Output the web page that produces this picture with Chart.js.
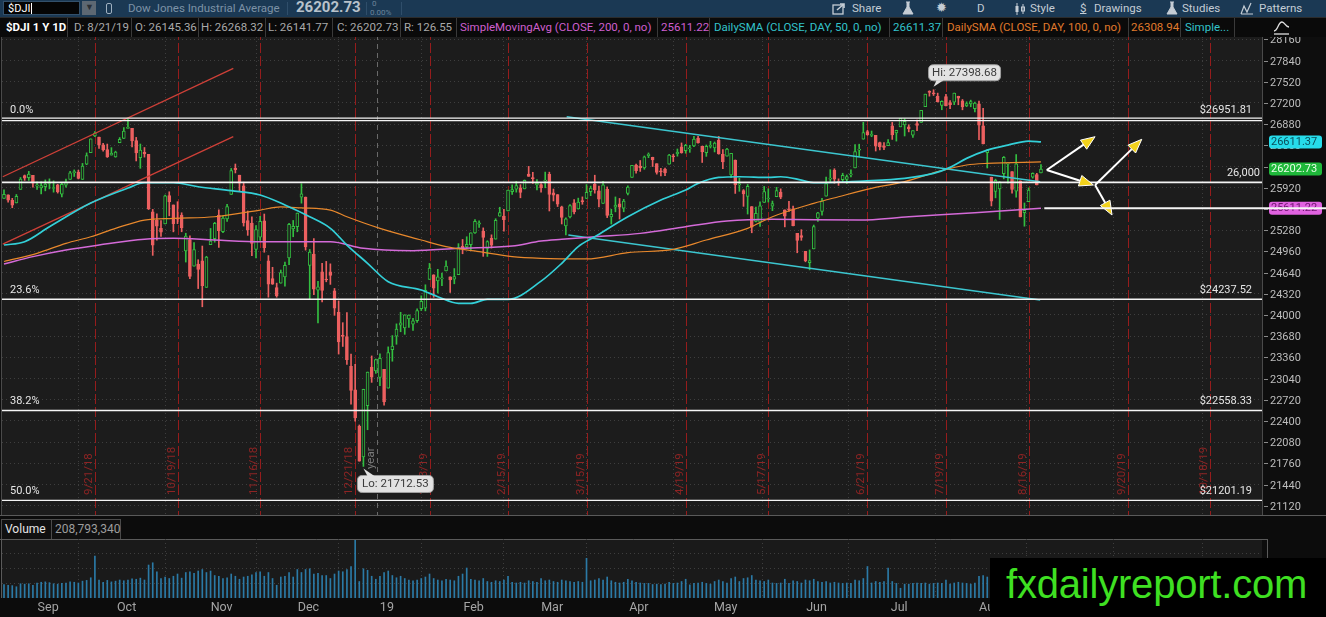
<!DOCTYPE html>
<html><head><meta charset="utf-8">
<script src="https://cdn.jsdelivr.net/npm/chart.js@4.4.1/dist/chart.umd.min.js"></script>
<style>
html,body{margin:0;padding:0;background:#0e0e0e;width:1326px;height:617px;overflow:hidden;font-family:Roboto,'Open Sans',sans-serif;}
.abs{position:absolute;white-space:nowrap;}
#tb{position:absolute;left:0;top:0;width:1326px;height:17px;background:#1b3954;z-index:3;}
#tb span{position:absolute;line-height:17px;white-space:nowrap;}
#ib{position:absolute;left:0;top:17px;width:1326px;height:20px;background:#0a0a0a;z-index:3;border-top:1px solid #2c2c2c;box-sizing:border-box;}
#ib span{position:absolute;top:0;line-height:19px;font-size:11.5px;color:#a9a9a9;white-space:nowrap;}
#ib i{position:absolute;top:0;width:1px;height:19px;background:#3a3a3a;}
#pc{position:absolute;left:0;top:17px;}
#vc{position:absolute;left:0;top:539px;}
#vh{position:absolute;left:0;top:515px;width:1326px;height:24px;background:#0c0c0c;border-top:1px solid #5a5a5a;box-sizing:border-box;}
#vh span{position:absolute;top:3px;height:20px;line-height:20px;font-size:12px;white-space:nowrap;}
#wm{position:absolute;left:990px;top:558px;width:336px;height:59px;background:#000;z-index:4;}
#wm span{position:absolute;left:16px;top:1px;font-family:'Liberation Sans',Arial,sans-serif;font-size:40px;line-height:50px;color:#3fe022;letter-spacing:-0.2px;}
</style></head>
<body>
<div id="tb">
  <div class="abs" style="left:3px;top:1px;width:77px;height:14px;background:#050505;border:1px solid #33506a;box-sizing:border-box;"></div>
  <span style="left:8px;top:0;font-size:11px;color:#fff;">$DJI<span style="position:relative;display:inline-block;width:1px;height:11px;background:#fff;margin-left:1px;top:2px;"></span></span>
  <div class="abs" style="left:82px;top:1px;width:14px;height:14px;background:#5d6873;"></div>
  <span style="left:85px;top:-1px;font-size:9px;color:#2a2f35;">▼</span>
  <div class="abs" style="left:106px;top:3px;width:4px;height:9px;border:1px solid #9fb0c0;border-radius:2px;"></div>
  <span style="left:128px;font-size:11.5px;color:#7d92a6;">Dow Jones Industrial Average</span>
  <div class="abs" style="left:287px;top:2px;width:1px;height:13px;background:#2f4e6a;"></div>
  <span style="left:296px;top:-1px;font-size:15px;font-weight:bold;color:#b8c2cb;">26202.73</span>
  <div class="abs" style="left:366px;top:2px;width:1px;height:13px;background:#2f4e6a;"></div>
  <span style="left:372px;top:-5px;font-size:8px;color:#6c8399;">0</span>
  <span style="left:370px;top:4px;font-size:8px;color:#6c8399;">0.00%</span>
  <div class="abs" style="left:401px;top:2px;width:1px;height:13px;background:#2f4e6a;"></div>
  <svg class="abs" style="left:832px;top:2px" width="14" height="13"><rect x="1" y="3" width="10" height="9" fill="none" stroke="#c5cdd5" stroke-width="1.3"/><path d="M5 8 L12 2 M8 2 L12 2 L12 6" fill="none" stroke="#c5cdd5" stroke-width="1.6"/></svg>
  <span style="left:852px;font-size:11.5px;color:#c5cdd5;">Share</span>
  <svg class="abs" style="left:902px;top:1px" width="12" height="15"><path d="M4 1 L8 1 M5 1 L5 6 L1 13 L11 13 L7 6 L7 1" fill="#c5cdd5" stroke="#c5cdd5" stroke-width="1"/></svg>
  <span style="left:936px;top:-1px;font-size:13px;color:#c5cdd5;">✹</span>
  <span style="left:977px;font-size:11.5px;color:#c5cdd5;">D</span>
  <svg class="abs" style="left:1014px;top:3px" width="12" height="12"><path d="M3 0 L3 12 M9 1 L9 11" stroke="#c5cdd5" stroke-width="1"/><rect x="1.5" y="3" width="3" height="6" fill="#c5cdd5"/><rect x="7.5" y="4" width="3" height="4" fill="none" stroke="#c5cdd5"/></svg>
  <span style="left:1030px;font-size:11.5px;color:#c5cdd5;">Style</span>
  <span style="left:1080px;font-size:11.5px;color:#c5cdd5;text-decoration:underline;">$</span>
  <span style="left:1094px;font-size:11.5px;color:#c5cdd5;">Drawings</span>
  <svg class="abs" style="left:1166px;top:1px" width="12" height="15"><path d="M4 1 L8 1 M5 1 L5 6 L1 13 L11 13 L7 6 L7 1" fill="#c5cdd5" stroke="#c5cdd5" stroke-width="1"/></svg>
  <span style="left:1182px;font-size:11.5px;color:#c5cdd5;">Studies</span>
  <svg class="abs" style="left:1240px;top:2px" width="14" height="13"><path d="M1 12 L4 4 L7 10 L11 1 M1 12 L13 12" fill="none" stroke="#c5cdd5" stroke-width="1.2"/></svg>
  <span style="left:1259px;font-size:11.5px;color:#c5cdd5;">Patterns</span>
</div>
<div id="ib"></div>
<canvas id="pc" width="1326" height="498"></canvas>
<div id="vh">
  <div class="abs" style="left:1px;top:3px;width:120px;height:21px;border:1px solid #4a4a4a;box-sizing:border-box;background:#101010;"></div>
  <div class="abs" style="left:51px;top:3px;width:1px;height:21px;background:#4a4a4a;"></div>
  <span style="left:5px;color:#e4e4e4;">Volume</span>
  <span style="left:55px;color:#9d9d9d;">208,793,340</span>
</div>
<canvas id="vc" width="1326" height="78"></canvas>
<div id="wm"><span>fxdailyreport.com</span></div>
<script>
// ---------------- DATA ----------------
// trading-day index 0 = 8/21/18 ... 251 = 8/21/19
const opens = [
25758,25812,25730,25692,25896,26104,26072,26108,25945,
25916,25937,25986,25908,25964,25823,25957,26044,26147,26158,26045,26276,26450,26702,26686,26567,26497,26413,26386,
26599,26663,26815,26816,26632,26374,26456,26423,25555,25428,25308,25372,25800,25660,25450,25507,24967,25136,24735,24766,24817,24416,25061,
25151,25506,25255,25451,25819,26216,26109,25948,25423,25388,24990,25175,25421,24818,24550,24413,24479,24572,24860,25298,25334,
25779,25780,24748,24918,24374,24650,24537,24651,24362,24040,23683,23675,23225,22871,22317,21858,22629,23213,23154,
23058,23177,22895,23474,23680,23844,23804,23940,23862,23914,24095,24101,24535,24607,24512,24545,24664,24575,24541,24609,25036,
25025,25062,25238,25371,25265,25004,25157,25144,25490,25492,25570,25862,25900,25919,25902,26126,26070,25962,25969,
26019,26123,25842,25815,25630,25345,25478,25693,25600,25720,25757,25861,25975,25873,25684,25894,25479,25625,25676,25611,25834,
26076,26262,26245,26219,26405,26377,26283,26175,26200,26275,26397,26434,26536,26481,26506,26550,26671,26547,26448,26543,26522,
26640,26423,26395,26115,26339,25964,25878,25788,25636,25410,25401,25698,25750,25641,25784,25854,25585,25597,25600,25230,25197,24959,
24787,24996,25460,25563,25792,26050,26185,26010,26040,26044,26113,26219,26488,26652,26766,26709,26711,26603,26553,26554,
26853,26746,26839,26869,26838,26712,26887,26907,27145,27362,27347,27301,27162,27294,27207,27213,27298,27232,27154,27186,27113,27186,
26855,26450,26079,25863,25901,26134,26277,26165,25867,26023,25542,25708,26079,26117,26145];
const highs = [
25888,25812,25760,25818,26074,26112,26167,26108,26010,
26009,26038,26054,26024,25972,25990,26049,26169,26189,26185,26287,26446,26657,26769,26686,26592,26579,26525,26472,
26677,26828,26952,26816,26680,26580,26527,26423,25593,25527,25424,25809,25859,25660,25709,25542,25233,25194,25093,24833,25040,24885,25305,
25398,25587,25494,25668,26211,26278,26109,26004,25569,25479,25350,25490,25523,24896,24719,24480,24678,24797,25381,25426,25538,
25981,25780,24988,25151,24507,24780,24808,24771,24400,24212,23883,24037,23408,23254,22339,22879,23138,23381,23334,
23413,23177,23518,23688,23865,24040,24002,24003,23947,24092,24288,24455,24778,24607,24688,24633,24816,24575,24700,25076,25139,
25180,25240,25438,25419,25314,25120,25209,25452,25625,25593,25883,25963,26016,25966,26037,26242,26153,26044,25981,
26156,26155,25900,25817,25642,25465,25665,25741,25763,25782,25968,25945,26109,25944,26017,25932,25595,25781,25758,25745,25949,
26259,26276,26331,26399,26445,26381,26283,26214,26218,26425,26424,26505,26596,26575,26559,26696,26695,26547,26565,26620,26611,
26695,26494,26516,26441,26339,26063,25892,25969,25636,25629,25707,25939,25904,25719,25926,25903,25585,25714,25644,25230,25287,24959,
24981,25357,25549,25760,26082,26193,26207,26054,26139,26113,26192,26571,26577,26907,26787,26776,26711,26608,26601,26645,
26906,26788,26967,26962,26871,26784,26942,27089,27333,27384,27399,27348,27232,27330,27234,27349,27302,27252,27217,27242,27212,27227,
27120,26497,26079,26050,26014,26391,26300,26165,26421,26023,25690,25918,26145,26139,26268];
const lows = [
25758,25703,25618,25690,25896,26031,26030,25927,25893,
25827,25873,25902,25853,25839,25783,25927,26044,26090,26052,26045,26268,26450,26691,26515,26471,26377,26413,26380,
26599,26663,26815,26537,26324,26213,26382,25590,24899,25129,25186,25372,25496,25254,25378,25255,24798,24547,24735,24398,24123,24416,25061,
25098,25019,25241,25413,25819,26143,25873,25341,25201,24896,24862,25126,24946,24268,24461,24268,24479,24434,24759,25180,25255,
25687,24978,24242,24304,23881,24195,24500,24461,23994,23409,23524,23254,22654,22397,21792,21713,22267,22982,23118,
22931,22639,22895,23301,23557,23746,23707,23812,23765,23887,24066,24061,24535,24266,24330,24441,24664,24339,24470,24609,24923,
25003,24971,25232,25322,24884,24883,25009,25144,25490,25266,25570,25819,25853,25768,25902,26092,25985,25887,25853,
25919,25569,25720,25636,25373,25208,25466,25526,25597,25670,25757,25800,25838,25632,25684,25469,25372,25556,25447,25557,25810,
26076,26140,26166,26198,26373,26240,26125,26099,26103,26275,26315,26396,26441,26441,26454,26540,26594,26301,26393,26520,26460,
26426,26207,26395,26070,25834,25866,25639,25523,25240,25403,25337,25698,25704,25574,25784,25754,25329,25563,25343,24938,25126,24802,
24680,24996,25410,25505,25792,26013,25987,25955,26009,25983,26083,26219,26395,26652,26711,26690,26474,26489,26494,26554,
26649,26624,26839,26701,26763,26678,26780,26907,27145,27302,27312,27213,27097,27153,27113,27174,27172,27096,27144,27142,27063,26644,
26582,26218,25645,25767,25441,26054,25988,25839,25777,25479,25339,25708,26064,25962,26142];
const closes = [
25822,25734,25657,25790,26050,26064,26125,25987,25965,
25952,25975,25996,25917,25857,25971,25999,26146,26155,26062,26247,26406,26657,26744,26562,26492,26385,26440,26458,
26651,26774,26828,26627,26447,26487,26431,25599,25053,25340,25251,25798,25707,25379,25444,25317,25191,24583,24985,24688,24443,24875,25116,
25381,25271,25462,25635,26180,26191,25989,25387,25286,25081,25289,25413,25017,24466,24465,24286,24640,24749,25366,25339,25538,
25826,25027,24948,24389,24423,24370,24527,24597,24101,23593,23676,23324,22860,22445,21792,22878,23139,23062,23327,
23346,22686,23433,23531,23787,23879,24002,23996,23910,24066,24207,24370,24706,24404,24576,24553,24737,24528,24580,25015,25000,
25064,25239,25412,25390,25170,25106,25053,25426,25543,25439,25883,25891,25954,25851,26032,26092,26058,25985,25916,
26026,25820,25807,25673,25473,25450,25651,25555,25703,25710,25849,25914,25887,25746,25963,25502,25517,25658,25626,25717,25929,
26258,26179,26218,26385,26425,26341,26151,26157,26143,26412,26385,26453,26450,26560,26511,26656,26597,26462,26543,26554,26593,
26430,26308,26505,26438,25965,25967,25828,25942,25325,25532,25648,25863,25764,25680,25877,25777,25490,25586,25348,25126,25170,24815,
24820,25332,25540,25721,25984,26063,26049,26005,26107,26090,26113,26466,26504,26753,26719,26728,26548,26537,26527,26600,
26717,26787,26966,26922,26806,26783,26860,27088,27332,27359,27336,27220,27223,27154,27172,27349,27270,27141,27192,27221,27198,26864,
26583,26485,25718,26030,26007,26378,26287,25896,26280,25479,25579,25886,26136,25962,26203];
// volume, millions of shares
const volumes = [
180,170,165,150,190,185,190,170,200,
210,215,205,190,185,195,200,215,210,200,225,235,270,560,240,210,235,215,225,
240,230,240,255,250,265,240,440,470,350,260,280,260,290,320,265,340,350,330,360,380,340,360,
300,290,260,270,320,290,250,280,290,310,340,350,290,340,260,170,280,290,340,280,380,
340,380,390,320,330,300,300,260,320,360,350,380,420,770,220,390,370,290,250,
290,340,360,300,270,290,260,240,230,240,260,280,320,260,240,230,250,240,230,290,320,
400,250,240,230,260,220,210,230,220,240,290,210,200,210,200,230,220,210,260,
230,240,220,210,240,230,220,210,220,210,530,230,240,260,240,280,230,210,200,210,250,
230,210,200,195,195,180,185,180,185,210,195,200,220,250,175,195,200,210,195,185,220,
240,220,200,260,280,220,260,270,300,240,230,220,240,200,195,200,250,195,230,220,200,240,
230,250,220,210,220,200,210,200,195,200,195,240,230,260,420,200,220,210,220,400,
220,195,130,185,185,195,200,195,200,185,195,200,195,240,185,200,210,200,195,185,200,290,
300,280,340,290,300,260,230,220,250,290,260,220,185,195,209];
// moving averages (index, value)
const sma50X  = [0,5,11,21,30,34,41,47,55,62,68,74,79,83,88,93,101,105,110,113,117,122,130,135,139,143,151,159,165,168,173,178,185,188,193,196,208,218,225,229,233,238,243,248,251];
const sma50Y  = [25055,25105,25331,25689,25915,25995,25995,25935,25875,25810,25660,25482,25307,25055,24779,24501,24376,24275,24175,24175,24235,24235,24510,24779,25030,25180,25482,25734,25885,25986,26076,26086,26076,26086,26036,25995,26021,26061,26136,26227,26363,26488,26564,26624,26611];
const sma100X = [0,8,15,21,27,34,41,51,62,67,72,79,83,91,101,107,115,123,130,141,151,162,170,180,186,196,202,210,218,226,233,238,251];
const sma100Y = [24806,24930,25081,25180,25307,25432,25458,25482,25583,25630,25615,25583,25482,25307,25131,25030,24955,24880,24854,24845,24940,24990,25131,25307,25482,25684,25784,25911,26011,26162,26263,26288,26309];
const sma200X = [0,7,15,23,34,41,51,62,79,87,99,110,123,130,135,143,154,165,175,186,207,219,235,251];
const sma200Y = [24769,24880,24980,25055,25142,25156,25131,25106,25106,25005,24970,25005,25040,25115,25142,25180,25231,25331,25417,25443,25432,25482,25543,25611];
// drawn trend lines (index, price)
const redUpperX = [-0.3, 55.5], redUpperY = [26086, 27722];
const redLowerX = [-0.3, 55.5], redLowerY = [25070, 26690];
const cyanUpperX = [136.2, 250.8], cyanUpperY = [26992, 26010];
const cyanLowerX = [136.6, 250.8], cyanLowerY = [25206, 24225];
// arrows
const arrowFromX = [252.4, 252.4, 264.1, 264.1], arrowFromY = [26187, 26187, 25961, 25961];
const arrowToX   = [264.1, 263.7, 275.4, 268.2], arrowToY   = [26690, 25961, 26651, 25508];
// levels
const fibValues = [26951.81, 24237.52, 22558.33, 21201.19];
const fibPct    = ['0.0%', '23.6%', '38.2%', '50.0%'];
const fibText   = ['$26951.81', '$24237.52', '$22558.33', '$21201.19'];
const levelValue = 26000, levelText = '26,000';
const supportValue = 25611.22, supportStartX = 251.8;
const hiIdx = 225, hiValue = 27398.68, loIdx = 87, loValue = 21712.53;
// axes
const yTicks = [21120,21440,21760,22080,22400,22720,23040,23360,23680,24000,24320,24640,24960,25280,25600,25920,26240,26560,26880,27200,27520,27840,28160];
const volTicks = [200, 400, 600];
const monthIdx = [9,28,51,72,91,112,131,152,173,195,215,237,259,279,302];
const monthLabels = ['Sep','Oct','Nov','Dec','19','Feb','Mar','Apr','May','Jun','Jul','Aug','Sep','Oct','Nov'];
const expIdx = [22,42,62,85,103,122,141,165,185,209,228,248,272,292];
const expLabels = ['9/21/18','10/19/18','11/16/18','12/21/18','1/18/19','2/15/19','3/15/19','4/19/19','5/17/19','6/21/19','7/19/19','8/16/19','9/20/19','10/18/19'];
const yearIdx = 90.2;
const badgeValues = [26611.37, 26202.73, 25611.22];
const badgeBg = ['#26dcea', '#1fb83a', '#e062e0'];
const badgeFg = ['#0b4f5a', '#e9ffe9', '#6e146e'];
// header cells
const infoCells = [[6,'$DJI 1 Y 1D','#ffffff',1],[74,'D: 8/21/19','#a9a9a9'],[135,'O: 26145.36','#a9a9a9'],[201,'H: 26268.32','#a9a9a9'],[268,'L: 26141.77','#a9a9a9'],[337,'C: 26202.73','#a9a9a9'],[404,'R: 126.55','#a9a9a9'],[460,'SimpleMovingAvg (CLOSE, 200, 0, no)','#cf5fcf'],[661,'25611.22','#cf5fcf'],[714,'DailySMA (CLOSE, DAY, 50, 0, no)','#33c3cb'],[893,'26611.37','#33c3cb'],[947,'DailySMA (CLOSE, DAY, 100, 0, no)','#e07a2c'],[1131,'26308.94','#e07a2c'],[1185,'Simple...','#33c3cb']];
const infoBorders = [67,131,198,265,332,400,456,657,709,889,942,1128,1180,1234];

// ---------------- header ----------------
const ib = document.getElementById('ib');
infoCells.forEach(c => { const s = document.createElement('span'); s.textContent = c[1]; s.style.left = c[0] + 'px'; s.style.color = c[2]; if (c[3]) s.style.fontWeight = 'bold'; ib.appendChild(s); });
infoBorders.forEach(b => { const d = document.createElement('i'); d.style.left = b + 'px'; ib.appendChild(d); });
ib.insertAdjacentHTML('beforeend','<svg style="position:absolute;left:1272px;top:1px" width="20" height="17"><path d="M2 12 C6 12 6 3 10 3 C13 3 13 8 17 8" fill="none" stroke="#e0e0e0" stroke-width="1.3"/><path d="M2 15 L17 15" stroke="#e0e0e0" stroke-width="1.3"/></svg>');

// ---------------- chart helpers ----------------
const GREEN = '#33be40', RED = '#ec6060', PLOT = '#1c1c1c', GRID = '#3e3e3e';
const XMIN = -0.484, XMAX = 304.5;
const FONT = 'Roboto, "Open Sans", sans-serif';
const idxs = closes.map((_, i) => i);
const up = idxs.map(i => closes[i] >= opens[i]);
const pts = (xs, ys) => xs.map((x, i) => ({x: x, y: ys[i]}));

const bgPlugin = {
  id: 'bgp',
  beforeDraw(chart) {
    const {ctx, chartArea: a} = chart;
    ctx.save();
    ctx.fillStyle = '#0e0e0e'; ctx.fillRect(0, 0, chart.width, chart.height);
    ctx.fillStyle = PLOT; ctx.fillRect(a.left, a.top, a.right - a.left, a.bottom - a.top);
    ctx.strokeStyle = '#4a4a4a'; ctx.lineWidth = 1;
    ctx.beginPath(); ctx.moveTo(a.left - 0.5, a.top); ctx.lineTo(a.left - 0.5, a.bottom); ctx.stroke();
    ctx.beginPath(); ctx.moveTo(a.right + 0.5, a.top); ctx.lineTo(a.right + 0.5, a.bottom); ctx.stroke();
    ctx.restore();
  }
};

function roundRect(ctx, x, y, w, h, r) {
  ctx.beginPath(); ctx.moveTo(x + r, y); ctx.lineTo(x + w - r, y); ctx.quadraticCurveTo(x + w, y, x + w, y + r);
  ctx.lineTo(x + w, y + h - r); ctx.quadraticCurveTo(x + w, y + h, x + w - r, y + h); ctx.lineTo(x + r, y + h);
  ctx.quadraticCurveTo(x, y + h, x, y + h - r); ctx.lineTo(x, y + r); ctx.quadraticCurveTo(x, y, x + r, y); ctx.closePath();
}

const overlay = {
  id: 'overlay',
  beforeDatasetsDraw(chart) {
    const {ctx, chartArea: a, scales: {x}} = chart;
    ctx.save();
    ctx.beginPath(); ctx.rect(a.left, a.top, a.right - a.left, a.bottom - a.top); ctx.clip();
    ctx.lineWidth = 1;
    ctx.font = '11.5px ' + FONT;
    expIdx.forEach((e, k) => {
      const px = Math.round(x.getPixelForValue(e)) + 0.5;
      ctx.strokeStyle = '#951c1c'; ctx.setLineDash([10, 3]);
      ctx.beginPath(); ctx.moveTo(px, a.top); ctx.lineTo(px, a.bottom); ctx.stroke();
      ctx.save(); ctx.translate(px - 1, a.bottom - 20); ctx.rotate(-Math.PI / 2);
      ctx.fillStyle = '#8e2424'; ctx.textAlign = 'left'; ctx.textBaseline = 'bottom';
      ctx.fillText(expLabels[k], 0, 0); ctx.restore();
    });
    const yx = Math.round(x.getPixelForValue(yearIdx)) + 0.5;
    ctx.strokeStyle = '#6a6a6a'; ctx.setLineDash([5, 4]);
    ctx.beginPath(); ctx.moveTo(yx, a.top); ctx.lineTo(yx, a.bottom); ctx.stroke();
    ctx.save(); ctx.translate(yx - 1, a.bottom - 46); ctx.rotate(-Math.PI / 2);
    ctx.fillStyle = '#7a7a7a'; ctx.textAlign = 'left'; ctx.textBaseline = 'bottom';
    ctx.fillText('year', 0, 0); ctx.restore();
    ctx.restore();
  },
  afterDatasetsDraw(chart) {
    const {ctx, chartArea: a, scales: {x, y}} = chart;
    ctx.save();
    ctx.beginPath(); ctx.rect(a.left, a.top, a.right - a.left, a.bottom - a.top); ctx.clip();
    ctx.setLineDash([]);
    ctx.font = '11px ' + FONT;
    fibValues.forEach((v, k) => {
      const py = y.getPixelForValue(v);
      ctx.strokeStyle = '#f4f4f4';
      if (k === 0) {
        ctx.lineWidth = 1.3;
        ctx.beginPath(); ctx.moveTo(a.left, py - 1.2); ctx.lineTo(a.right, py - 1.2); ctx.stroke();
        ctx.beginPath(); ctx.moveTo(a.left, py + 1.2); ctx.lineTo(a.right, py + 1.2); ctx.stroke();
      } else {
        ctx.lineWidth = 1.4;
        ctx.beginPath(); ctx.moveTo(a.left, py); ctx.lineTo(a.right, py); ctx.stroke();
      }
      ctx.fillStyle = '#e6e6e6'; ctx.textBaseline = 'alphabetic';
      ctx.textAlign = 'left'; ctx.fillText(fibPct[k], a.left + 8, py - 6);
      ctx.textAlign = 'right'; ctx.fillText(fibText[k], a.right - 10, py - 6);
    });
    const ly = y.getPixelForValue(levelValue);
    ctx.lineWidth = 1.8; ctx.strokeStyle = '#f4f4f4';
    ctx.beginPath(); ctx.moveTo(a.left, ly); ctx.lineTo(a.right, ly); ctx.stroke();
    ctx.textAlign = 'right'; ctx.fillStyle = '#e6e6e6'; ctx.fillText(levelText, a.right - 2, ly - 6);
    arrowFromX.forEach((fx, k) => {
      const x1 = x.getPixelForValue(fx), y1 = y.getPixelForValue(arrowFromY[k]);
      const x2 = x.getPixelForValue(arrowToX[k]), y2 = y.getPixelForValue(arrowToY[k]);
      const ang = Math.atan2(y2 - y1, x2 - x1), L = 14, W = 5.5;
      const bx = x2 - L * Math.cos(ang), by = y2 - L * Math.sin(ang);
      ctx.strokeStyle = '#ffffff'; ctx.lineWidth = 2;
      ctx.beginPath(); ctx.moveTo(x1, y1); ctx.lineTo(bx, by); ctx.stroke();
      ctx.beginPath(); ctx.moveTo(x2, y2);
      ctx.lineTo(bx + W * Math.sin(ang), by - W * Math.cos(ang));
      ctx.lineTo(bx - W * Math.sin(ang), by + W * Math.cos(ang)); ctx.closePath();
      ctx.fillStyle = '#f2d21c'; ctx.fill(); ctx.lineWidth = 1; ctx.strokeStyle = '#ffffff'; ctx.stroke();
    });
    ctx.font = '11.5px ' + FONT; ctx.textBaseline = 'middle'; ctx.textAlign = 'center';
    const hx = x.getPixelForValue(hiIdx), hy = y.getPixelForValue(hiValue);
    const hbx = hx - 5, hby = hy - 25, hw = 72, hh = 16;
    ctx.fillStyle = '#e2e2e2'; ctx.strokeStyle = '#a0a0a0'; ctx.lineWidth = 1;
    roundRect(ctx, hbx, hby, hw, hh, 5); ctx.fill(); ctx.stroke();
    ctx.beginPath(); ctx.moveTo(hx, hy - 3); ctx.lineTo(hx + 3, hby + hh - 0.5); ctx.lineTo(hx + 10, hby + hh - 0.5); ctx.closePath(); ctx.fill();
    ctx.fillStyle = '#3a3a3a'; ctx.fillText('Hi: ' + hiValue.toFixed(2), hbx + hw / 2, hby + hh / 2 + 0.5);
    const lx = x.getPixelForValue(loIdx), lyy = y.getPixelForValue(loValue);
    const lbx = lx - 6, lby = lyy + 9, lw = 76, lh = 17;
    ctx.fillStyle = '#e2e2e2'; ctx.strokeStyle = '#a0a0a0';
    roundRect(ctx, lbx, lby, lw, lh, 5); ctx.fill(); ctx.stroke();
    ctx.beginPath(); ctx.moveTo(lx, lyy + 2); ctx.lineTo(lx + 4, lby + 0.5); ctx.lineTo(lx + 11, lby + 0.5); ctx.closePath(); ctx.fill();
    ctx.fillStyle = '#3a3a3a'; ctx.fillText('Lo: ' + loValue.toFixed(2), lbx + lw / 2, lby + lh / 2 + 0.5);
    ctx.restore();
  },
  afterDraw(chart) {
    const {ctx, chartArea: a, scales: {x, y}} = chart;
    ctx.save();
    ctx.font = '11px ' + FONT; ctx.textBaseline = 'middle'; ctx.textAlign = 'left';
    yTicks.forEach(v => {
      const py = Math.round(y.getPixelForValue(v)) + 0.5;
      ctx.strokeStyle = '#8a8a8a'; ctx.lineWidth = 1;
      ctx.beginPath(); ctx.moveTo(a.right + 2, py); ctx.lineTo(a.right + 6, py); ctx.stroke();
      ctx.fillStyle = '#bdbdbd'; ctx.fillText(String(v), a.right + 8, py + 0.5);
    });
    badgeValues.forEach((v, k) => {
      const py = y.getPixelForValue(v);
      ctx.fillStyle = badgeBg[k];
      roundRect(ctx, a.right + 7, py - 6.5, 53, 13, 3); ctx.fill();
      ctx.fillStyle = badgeFg[k]; ctx.fillText(v.toFixed(2), a.right + 9, py + 0.5);
    });
    const sy = y.getPixelForValue(supportValue);
    ctx.strokeStyle = '#f4f4f4'; ctx.lineWidth = 2;
    ctx.beginPath(); ctx.moveTo(x.getPixelForValue(supportStartX), sy); ctx.lineTo(chart.width, sy); ctx.stroke();
    ctx.restore();
  }
};

// ---------------- price chart ----------------
new Chart(document.getElementById('pc'), {
  type: 'bar',
  data: {
    datasets: [
      {type: 'line', data: pts(sma50X, sma50Y), borderColor: '#33d0d8', borderWidth: 1.7, pointRadius: 0, cubicInterpolationMode: 'monotone', order: 1},
      {type: 'line', data: pts(sma100X, sma100Y), borderColor: '#e8882c', borderWidth: 1.2, pointRadius: 0, cubicInterpolationMode: 'monotone', order: 1},
      {type: 'line', data: pts(sma200X, sma200Y), borderColor: '#d46ad8', borderWidth: 1.5, pointRadius: 0, cubicInterpolationMode: 'monotone', order: 1},
      {type: 'line', data: pts(redUpperX, redUpperY), borderColor: '#cf4038', borderWidth: 1.3, pointRadius: 0, order: 1},
      {type: 'line', data: pts(redLowerX, redLowerY), borderColor: '#cf4038', borderWidth: 1.3, pointRadius: 0, order: 1},
      {type: 'line', data: pts(cyanUpperX, cyanUpperY), borderColor: '#3cc6cf', borderWidth: 1.5, pointRadius: 0, order: 1},
      {type: 'line', data: pts(cyanLowerX, cyanLowerY), borderColor: '#3cc6cf', borderWidth: 1.5, pointRadius: 0, order: 1},
      {type: 'bar', data: idxs.map(i => ({x: i, y: [lows[i], highs[i]]})), backgroundColor: up.map(u => u ? GREEN : RED), barThickness: 1, grouped: false, order: 6},
      {type: 'bar', data: idxs.map(i => ({x: i, y: [opens[i], closes[i]]})), backgroundColor: up.map(u => u ? PLOT : RED), borderColor: up.map(u => u ? GREEN : RED), borderWidth: 1, borderSkipped: false, barThickness: 3, minBarLength: 1, grouped: false, order: 5}
    ]
  },
  options: {
    responsive: false, animation: false, events: [],
    layout: {padding: {left: 2, right: 0, top: 0, bottom: 0}},
    plugins: {legend: {display: false}, tooltip: {enabled: false}},
    scales: {
      x: {type: 'linear', min: XMIN, max: XMAX, offset: false,
          afterBuildTicks: s => { s.ticks = monthIdx.map(m => ({value: m - 0.5})); },
          afterFit: s => { s.height = 0; },
          ticks: {display: false}, grid: {color: GRID, drawTicks: false}, border: {display: false, dash: [1, 3]}},
      y: {type: 'linear', position: 'right', min: 20980, max: 28497,
          afterBuildTicks: s => { s.ticks = yTicks.map(v => ({value: v})); },
          afterFit: s => { s.width = 64; },
          ticks: {display: false}, grid: {color: GRID, drawTicks: false}, border: {display: false, dash: [1, 3]}}
    }
  },
  plugins: [bgPlugin, overlay]
});

// ---------------- volume chart ----------------
const volBg = {
  id: 'volbg',
  beforeDraw(chart) {
    const {ctx, chartArea: a} = chart;
    ctx.save();
    ctx.fillStyle = '#0c0c0c'; ctx.fillRect(0, 0, chart.width, chart.height);
    ctx.fillStyle = '#1a1a1a'; ctx.fillRect(a.left, a.top, a.right - a.left, a.bottom - a.top);
    ctx.strokeStyle = '#5a5a5a'; ctx.lineWidth = 1;
    ctx.beginPath(); ctx.moveTo(0, a.top + 0.5); ctx.lineTo(a.right + 5, a.top + 0.5); ctx.stroke();
    ctx.beginPath(); ctx.moveTo(a.right + 5.5, a.top); ctx.lineTo(a.right + 5.5, a.bottom); ctx.stroke();
    ctx.beginPath(); ctx.moveTo(a.left - 0.5, a.top); ctx.lineTo(a.left - 0.5, a.bottom); ctx.stroke();
    ctx.restore();
  }
};
new Chart(document.getElementById('vc'), {
  type: 'bar',
  data: {datasets: [{data: idxs.map(i => ({x: i, y: volumes[i]})), backgroundColor: '#2b7aa6', barThickness: 1, grouped: false}]},
  options: {
    responsive: false, animation: false, events: [],
    layout: {padding: {left: 2, right: 0, top: 0, bottom: 0}},
    plugins: {legend: {display: false}, tooltip: {enabled: false}},
    scales: {
      x: {type: 'linear', min: XMIN, max: XMAX, offset: false,
          afterBuildTicks: s => { s.ticks = monthIdx.map(m => ({value: m - 0.5})); },
          afterFit: s => { s.height = 19; },
          ticks: {autoSkip: false, maxRotation: 0, labelOffset: 9, padding: 2, color: '#a5a5a5', font: {family: 'Roboto', size: 12.5},
                  callback: (v, i) => monthLabels[i]},
          grid: {color: GRID, drawTicks: false}, border: {display: false, dash: [1, 3]}},
      y: {type: 'linear', position: 'right', min: 0, max: 787,
          afterBuildTicks: s => { s.ticks = volTicks.map(v => ({value: v})); },
          afterFit: s => { s.width = 64; },
          ticks: {display: false}, grid: {color: GRID, drawTicks: false}, border: {display: false, dash: [1, 3]}}
    }
  },
  plugins: [volBg]
});
</script>
</body></html>
